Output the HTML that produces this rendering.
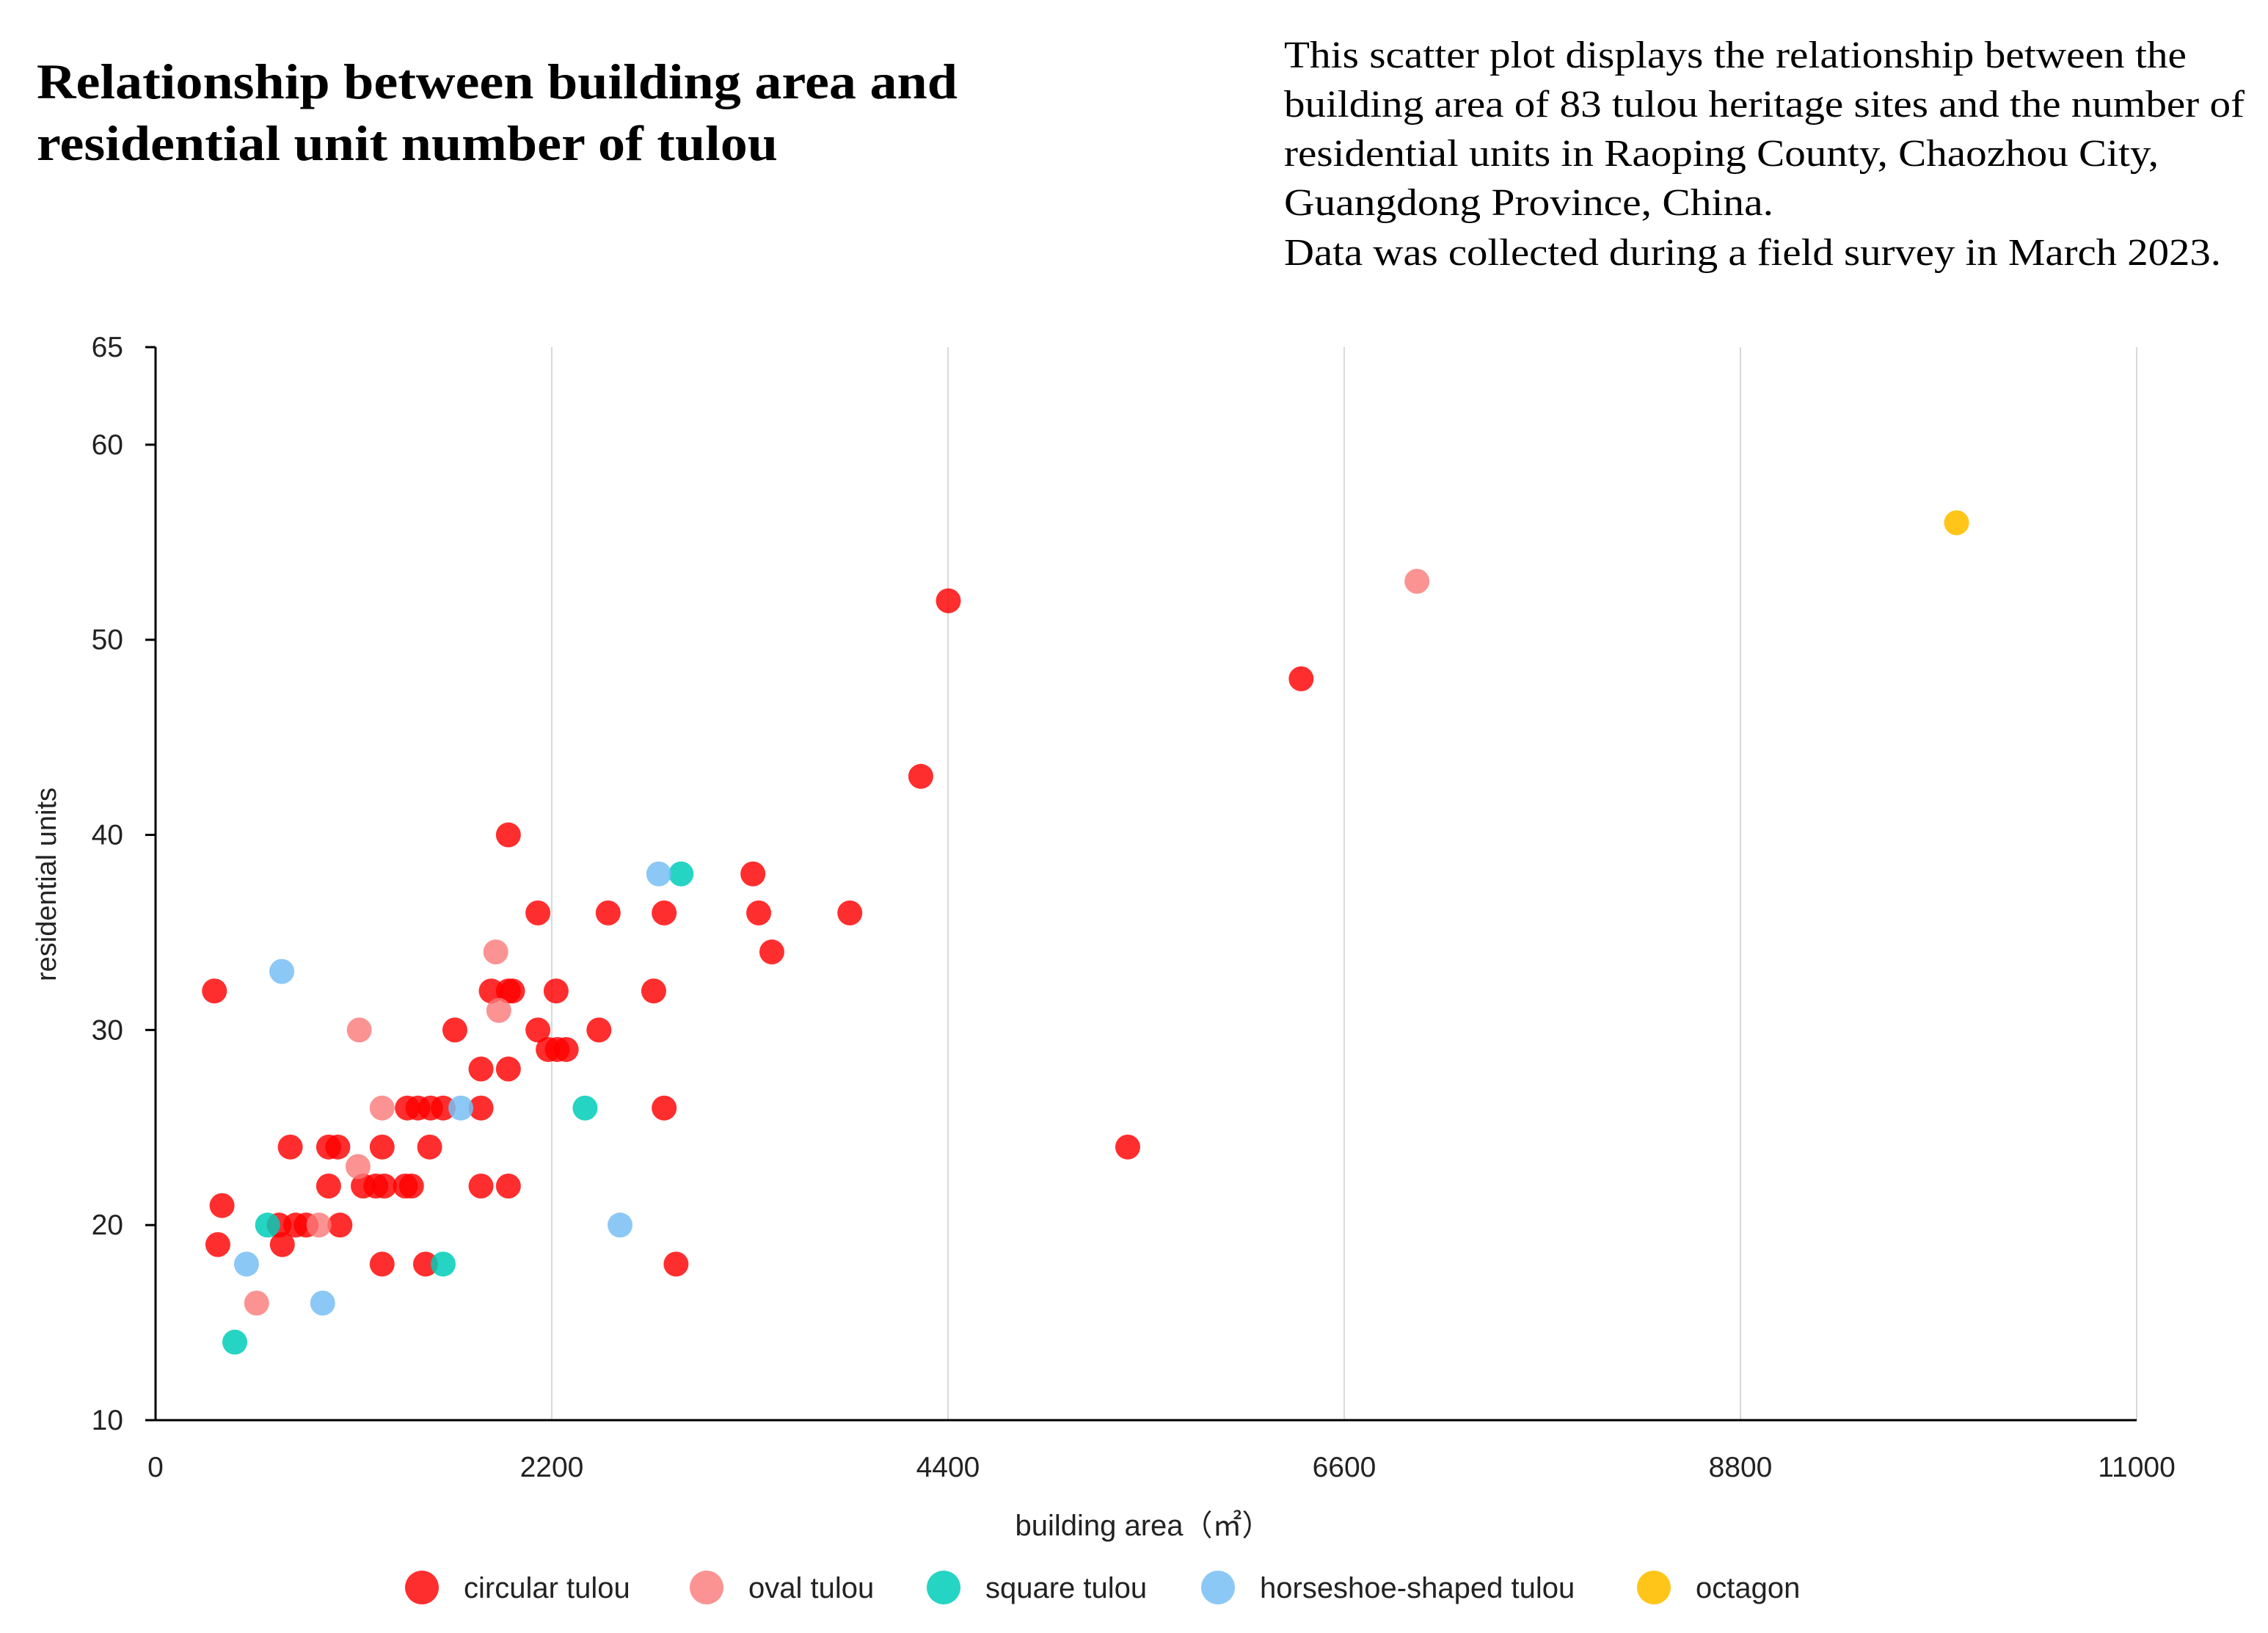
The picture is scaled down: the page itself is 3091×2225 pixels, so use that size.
<!DOCTYPE html>
<html><head><meta charset="utf-8"><style>
html,body{margin:0;padding:0;background:#fff;}
svg{display:block;}
.serif{font-family:"Liberation Serif",serif;}
.sans{font-family:"Liberation Sans","DejaVu Sans",sans-serif;}
</style></head><body>
<svg id="chart" width="3091" height="2225" viewBox="0 0 3091 2225" xmlns="http://www.w3.org/2000/svg">
<g>
<text class="serif" x="50" y="134" font-size="68" font-weight="bold" fill="#000" textLength="1255" lengthAdjust="spacingAndGlyphs">Relationship between building area and</text>
<text class="serif" x="50" y="218" font-size="68" font-weight="bold" fill="#000" textLength="1010" lengthAdjust="spacingAndGlyphs">residential unit number of tulou</text>
</g>
<g class="serif" font-size="52" fill="#000">
<text x="1750" y="92" textLength="1230" lengthAdjust="spacingAndGlyphs">This scatter plot displays the relationship between the</text>
<text x="1750" y="159" textLength="1309" lengthAdjust="spacingAndGlyphs">building area of 83 tulou heritage sites and the number of</text>
<text x="1750" y="226" textLength="1192" lengthAdjust="spacingAndGlyphs">residential units in Raoping County, Chaozhou City,</text>
<text x="1750" y="293" textLength="667" lengthAdjust="spacingAndGlyphs">Guangdong Province, China.</text>
<text x="1750" y="361" textLength="1277" lengthAdjust="spacingAndGlyphs">Data was collected during a field survey in March 2023.</text>
</g>
<g id="grid"></g>
<g id="axes"></g>
<g id="points"></g>
<text class="sans" x="1558" y="2092" font-size="40" text-anchor="middle" fill="#222">building area（㎡）</text>
<text class="sans" transform="translate(76,1205) rotate(-90)" font-size="38" text-anchor="middle" fill="#222">residential units</text>
<g id="legend"></g>
</svg>
<script>
const xTicks=[0,2200,4400,6600,8800,11000];
const yTicks=[10,20,30,40,50,60,65];
const seriesNames=["circular tulou","oval tulou","square tulou","horseshoe-shaped tulou","octagon"];
const seriesColors=["rgba(255,0,0,0.82)","rgba(250,120,120,0.8)","rgba(0,205,185,0.85)","rgba(120,190,245,0.85)","rgba(255,192,0,0.9)"];
const circularX=[327,369,346,704,686,778,836,1024,748,961,1012,1258,1522,961,1153,1223,1270,1387,1421,1807,1959,1258,1499,2890,1398,1457,1527,1597,1807,2824,1807,1959,1662,2123,2462,2180,2230,2280,1864,1959,1982,2224,2766,2123,2513,2824,1959,3317,3349,3422,3855,4249,4402,5398,6361];
const circularY=[32,21,19,19,20,20,20,20,24,24,24,24,24,22,22,22,22,22,22,22,22,18,18,18,26,26,26,26,26,26,28,28,30,30,30,29,29,29,32,32,32,32,32,36,36,36,40,38,36,34,36,43,52,24,48];
const ovalX=[1131,1124,1258,1889,1906,561,907,7004];
const ovalY=[30,23,26,34,31,16,20,53];
const squareX=[622,440,1597,2385,2918];
const squareY=[20,14,18,26,38];
const horseX=[701,505,928,1695,2579,2794];
const horseY=[33,18,16,26,20,38];
const octX=[10000];
const octY=[56];
const NS="http://www.w3.org/2000/svg";
const X0=212,X1=2912,Y0=1935,Y1=473;
function sx(v){return X0+(v-0)/(11000-0)*(X1-X0);}
function sy(v){return Y0-(v-10)/(65-10)*(Y0-Y1);}
function mk(tag,attrs,parent){const e=document.createElementNS(NS,tag);for(const k in attrs)e.setAttribute(k,attrs[k]);parent.appendChild(e);return e;}
const grid=document.getElementById('grid'),axes=document.getElementById('axes'),pts=document.getElementById('points'),leg=document.getElementById('legend');
xTicks.forEach(t=>{
 if(t>0){const l=mk('line',{x1:sx(t),x2:sx(t),y1:Y1,y2:Y0,stroke:'#d9d9d9','stroke-width':2},grid);
 
 }
 const tx=mk('text',{x:sx(t),y:2012,'font-size':39,'text-anchor':'middle',fill:'#222',class:'sans'},axes);tx.textContent=t;
 
 
});
yTicks.forEach(t=>{
 const tk=mk('line',{x1:X0-14,x2:X0,y1:sy(t),y2:sy(t),stroke:'#000','stroke-width':3},axes);
 
 
 const tx=mk('text',{x:168,y:sy(t)+13,'font-size':39,'text-anchor':'end',fill:'#222',class:'sans'},axes);tx.textContent=t;
 
 
});
const ya=mk('line',{x1:X0,x2:X0,y1:Y1,y2:Y0,stroke:'#000','stroke-width':3},axes);


const xa=mk('line',{x1:X0,x2:X1,y1:Y0,y2:Y0,stroke:'#000','stroke-width':3},axes);


const allX=[circularX,ovalX,squareX,horseX,octX],allY=[circularY,ovalY,squareY,horseY,octY];
allX.forEach((xs,si)=>{xs.forEach((v,i)=>{
 const c=mk('circle',{cx:sx(v),cy:sy(allY[si][i]),r:17,fill:seriesColors[si]},pts);
 
 
});});
const legMx=[575,963,1286,1660,2254];
seriesNames.forEach((n,i)=>{
 const c=mk('circle',{cx:legMx[i],cy:2163,r:23,fill:seriesColors[i]},leg);
 
 
 const t=mk('text',{x:legMx[i]+57,y:2177,'font-size':40,fill:'#222',class:'sans'},leg);t.textContent=n;
 
 
});
</script>
</body></html>
